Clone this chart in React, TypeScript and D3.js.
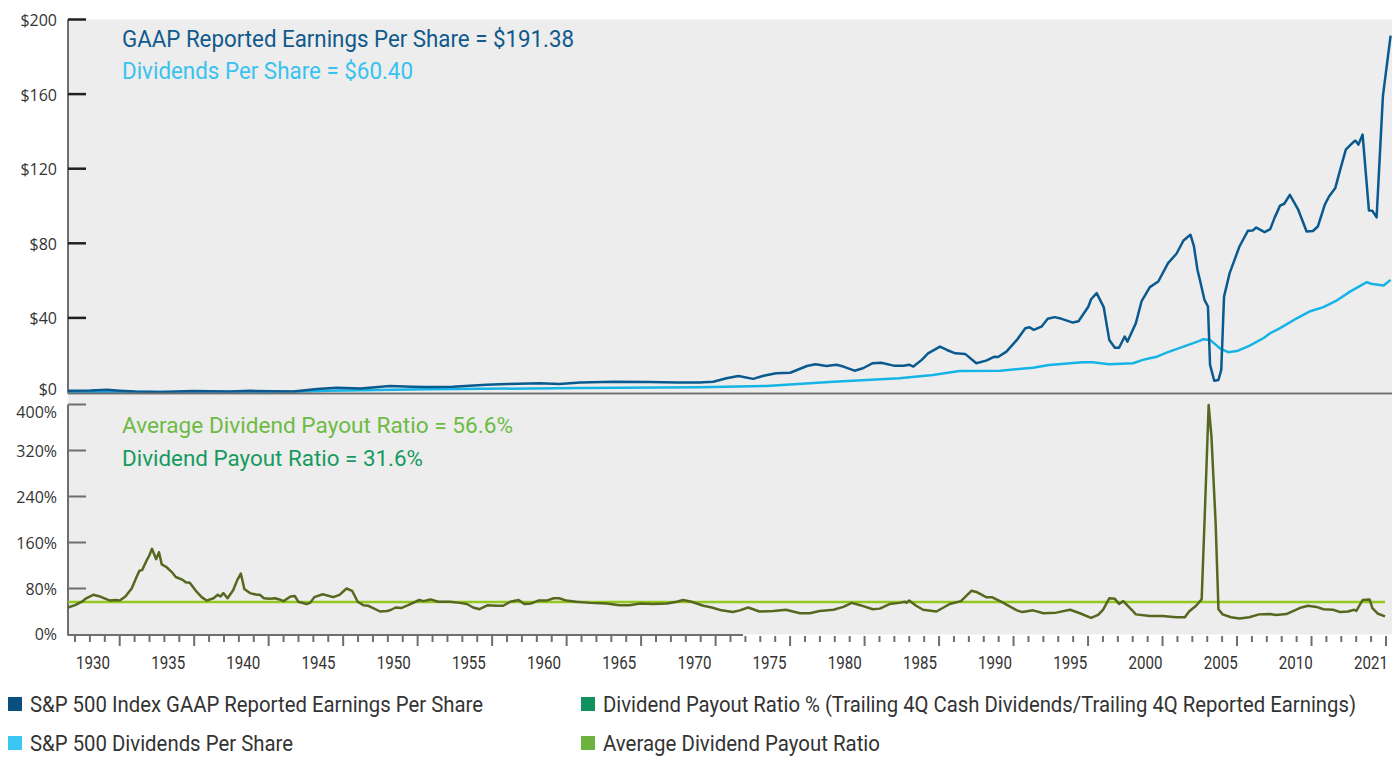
import React from "react";
import * as d3 from "d3";

// ---- Data (chart time in years) ----
const epsSeries: [number, number][] = [
  [1927.0, 1.0], [1928.6, 1.1], [1929.8, 1.5], [1930.7, 1.0], [1931.8, 0.5], [1933.6, 0.3],
  [1935.9, 0.8], [1938.6, 0.6], [1940.0, 0.9], [1943.1, 0.5], [1944.8, 1.9], [1946.2, 2.6],
  [1947.9, 2.2], [1950.0, 3.5], [1951.6, 3.1], [1952.6, 3.0], [1954.5, 3.1], [1956.9, 4.2],
  [1958.4, 4.6], [1960.7, 5.0], [1962.1, 4.6], [1963.6, 5.4], [1966.0, 5.8], [1968.5, 5.6],
  [1970.5, 5.4], [1972.1, 5.3], [1973.1, 5.8], [1974.05, 7.6], [1974.9, 8.9], [1975.95, 7.3],
  [1976.7, 9.0], [1977.6, 10.3], [1978.6, 10.6], [1979.8, 14.2], [1980.4, 15.1], [1981.2, 14.2],
  [1981.9, 14.9], [1982.4, 13.9], [1983.2, 11.7], [1983.8, 13.0], [1984.5, 15.7], [1985.1, 16.0],
  [1986.0, 14.4], [1986.7, 14.4], [1987.1, 14.9], [1987.4, 13.9], [1988.0, 17.5], [1988.45, 21.0],
  [1989.3, 24.6], [1989.8, 22.8], [1990.4, 21.0], [1991.1, 20.7], [1991.9, 15.7], [1992.6, 17.1],
  [1993.2, 19.2], [1993.45, 19.0], [1994.05, 21.9], [1994.8, 28.2], [1995.4, 34.5], [1995.7, 35.0],
  [1996.0, 33.6], [1996.55, 35.3], [1997.0, 39.5], [1997.5, 40.4], [1998.0, 39.5], [1998.8, 37.5],
  [1999.2, 38.2], [1999.9, 46.0], [2000.1, 50.0], [2000.5, 53.3], [2001.0, 45.8], [2001.4, 28.2],
  [2001.8, 24.0], [2002.1, 24.0], [2002.5, 30.0], [2002.7, 27.3], [2003.3, 37.2], [2003.7, 48.8],
  [2004.3, 56.5], [2004.9, 59.5], [2005.6, 69.4], [2006.2, 74.4], [2006.7, 81.5], [2007.2, 84.6],
  [2007.45, 78.3], [2007.7, 65.8], [2007.9, 59.5], [2008.2, 49.7], [2008.45, 46.1], [2008.6, 14.8],
  [2008.9, 6.3], [2009.2, 6.7], [2009.4, 12.1], [2009.6, 51.4], [2010.0, 64.0], [2010.7, 78.3],
  [2011.3, 86.7], [2011.66, 86.9], [2011.9, 88.5], [2012.1, 87.6], [2012.5, 86.0], [2012.9, 87.6],
  [2013.2, 93.5], [2013.6, 100.2], [2013.9, 101.2], [2014.3, 106.0], [2014.9, 98.0], [2015.5, 86.3],
  [2015.95, 86.6], [2016.3, 89.0], [2016.8, 100.7], [2017.1, 105.1], [2017.55, 109.7], [2017.9, 119.5],
  [2018.3, 130.2], [2018.6, 132.5], [2018.9, 134.7], [2019.0, 135.0], [2019.2, 132.9], [2019.5, 138.3],
  [2019.95, 97.6], [2020.2, 97.4], [2020.5, 93.9], [2020.95, 158.9], [2021.5, 191.38],
];

const dpsSeries: [number, number][] = [
  [1927.0, 0.3], [1935.0, 0.3], [1943.6, 0.5], [1945.5, 1.0], [1952.6, 1.7], [1963.6, 2.4],
  [1972.1, 2.8], [1976.9, 3.5], [1981.7, 5.8], [1986.4, 7.6], [1988.8, 9.4], [1990.7, 11.5],
  [1993.6, 11.7], [1995.95, 13.3], [1997.1, 14.8], [1999.5, 16.2], [2000.2, 16.2], [2001.4, 15.1],
  [2003.1, 15.7], [2003.8, 17.5], [2004.3, 18.4], [2004.8, 19.2], [2005.5, 21.4], [2006.7, 24.6],
  [2007.9, 27.8], [2008.1, 28.6], [2008.6, 28.2], [2009.3, 23.7], [2009.9, 21.6], [2010.6, 22.4],
  [2011.4, 25.0], [2012.4, 29.1], [2012.9, 31.8], [2013.6, 34.5], [2014.8, 39.8], [2015.7, 43.4],
  [2016.7, 45.8], [2017.6, 49.1], [2018.6, 54.1], [2019.8, 59.2], [2020.1, 58.3], [2021.0, 57.4],
  [2021.5, 60.4],
];

const payoutSeries: [number, number][] = [
  [1927.0, 47], [1927.5, 51], [1928.0, 57], [1928.3, 63], [1928.8, 69], [1929.3, 66], [1930.0, 59],
  [1930.4, 60], [1930.7, 59], [1931.1, 66], [1931.55, 80], [1931.9, 100], [1932.1, 111], [1932.3, 112],
  [1932.6, 128], [1932.8, 137], [1933.0, 149], [1933.3, 131], [1933.5, 143], [1933.7, 122],
  [1934.05, 117], [1934.4, 109], [1934.7, 100], [1935.2, 95], [1935.4, 91], [1935.7, 90], [1936.2, 74],
  [1936.55, 65], [1936.9, 59], [1937.4, 63], [1937.7, 69], [1937.9, 66], [1938.1, 72], [1938.4, 63],
  [1938.8, 77], [1939.1, 95], [1939.35, 106], [1939.6, 79], [1940.0, 72], [1940.5, 69], [1940.7, 69],
  [1941.0, 63], [1941.4, 62], [1941.8, 63], [1942.1, 61], [1942.4, 58], [1942.9, 66], [1943.2, 67],
  [1943.45, 57], [1944.05, 53], [1944.3, 55], [1944.6, 65], [1945.2, 70], [1945.95, 65], [1946.4, 69],
  [1946.9, 80], [1947.3, 76], [1947.7, 57], [1948.1, 51], [1948.45, 50], [1948.8, 46], [1949.3, 40],
  [1949.8, 41], [1950.1, 43], [1950.4, 47], [1950.8, 46], [1951.3, 51], [1952.1, 60], [1952.4, 58],
  [1952.9, 61], [1953.45, 57], [1954.3, 57], [1955.0, 55], [1955.5, 53], [1955.95, 47], [1956.4, 44],
  [1957.0, 51], [1957.6, 50], [1958.1, 50], [1958.6, 57], [1959.2, 60], [1959.6, 53], [1960.1, 54],
  [1960.6, 59], [1961.2, 59], [1961.7, 63], [1962.1, 63], [1962.6, 59], [1963.3, 57], [1964.3, 55],
  [1965.5, 54], [1966.4, 51], [1967.1, 51], [1967.9, 54], [1968.8, 53], [1969.8, 54], [1970.5, 57],
  [1970.95, 60], [1971.55, 57], [1972.4, 50], [1973.0, 47], [1973.7, 42], [1974.5, 39], [1975.0, 42],
  [1975.6, 47], [1976.4, 40], [1977.4, 41], [1978.3, 43], [1979.3, 37], [1980.0, 37], [1980.7, 41],
  [1981.7, 43], [1982.4, 48], [1983.0, 55], [1983.6, 51], [1984.5, 44], [1985.0, 45], [1985.7, 53],
  [1986.4, 55], [1986.8, 57], [1986.9, 55], [1987.1, 59], [1987.6, 50], [1988.1, 43], [1989.05, 40],
  [1990.0, 53], [1990.8, 58], [1991.55, 76], [1991.9, 74], [1992.6, 65], [1993.0, 65], [1993.6, 58],
  [1994.8, 42], [1995.2, 39], [1995.95, 42], [1996.7, 37], [1997.6, 38], [1998.6, 43], [1999.3, 37],
  [2000.1, 29], [2000.6, 34], [2000.95, 43], [2001.4, 63], [2001.8, 62], [2002.1, 53], [2002.4, 58],
  [2003.0, 43], [2003.3, 35], [2004.3, 32], [2005.2, 32], [2006.2, 30], [2006.8, 30], [2007.1, 40],
  [2007.6, 50], [2008.0, 61], [2008.2, 193], [2008.5, 399], [2008.7, 344], [2009.0, 193], [2009.2, 44],
  [2009.5, 35], [2010.1, 30], [2010.7, 28], [2011.4, 30], [2012.1, 35], [2012.9, 35.5], [2013.3, 34],
  [2014.05, 35.5], [2015.0, 46], [2015.6, 50], [2016.2, 48], [2016.7, 44], [2017.4, 43], [2017.9, 39],
  [2018.45, 40], [2018.9, 43], [2019.05, 41], [2019.5, 60], [2020.0, 61], [2020.2, 46], [2020.6, 36],
  [2021.1, 31.6],
];

const averagePayout = 56.6;
const avgSpan: [number, number] = [1927.0, 2021.1];

const topTicks = [0, 40, 80, 120, 160, 200];
const bottomTicks = [0, 80, 160, 240, 320, 400];
const yearLabels = ["1930", "1935", "1940", "1945", "1950", "1955", "1960", "1965", "1970", "1975",
  "1980", "1985", "1990", "1995", "2000", "2005", "2010", "2021"];
const tickCount = 89;

const legendItems = [
  { label: "S&P 500 Index GAAP Reported Earnings Per Share", color: "#0b4f80", width: 453 },
  { label: "S&P 500 Dividends Per Share", color: "#3cc6f2", width: 263 },
  { label: "Dividend Payout Ratio % (Trailing 4Q Cash Dividends/Trailing 4Q Reported Earnings)", color: "#0f9160", width: 753 },
  { label: "Average Dividend Payout Ratio", color: "#6db33f", width: 277 },
];

// ---- Layout ----
const W = 1400, H = 757;
const L = 68, R = 1392;
const NARROW = "Roboto, 'Noto Sans', sans-serif";
const AXISFONT = "'Open Sans', 'Noto Sans', sans-serif";

export default function App() {
  const x = d3.scaleLinear().domain([1927, 2021.6]).range([L, R]);
  const yTop = d3.scaleLinear().domain([0, 200]).range([392.5, 19.5]);
  const yBot = d3.scaleLinear().domain([0, 400]).range([634.5, 404.5]);
  const tickX = d3.scaleLinear().domain([0, tickCount - 1]).range([75, 1386]);
  const labelX = d3.scalePoint<string>().domain(yearLabels).range([93, 1371]);

  const lineTop = d3.line<[number, number]>().x(d => x(d[0])).y(d => yTop(d[1]));
  const lineBot = d3.line<[number, number]>().x(d => x(d[0])).y(d => yBot(d[1]));

  return (
    <svg width={W} height={H} style={{ position: "absolute", left: 0, top: 0, background: "#fff" }}>
      {/* backgrounds */}
      <rect x={L} y={yTop(200)} width={R - L} height={yTop(0) - yTop(200)} fill="#ededed" />
      <rect x={L} y={395} width={R - L} height={yBot(0) - 395} fill="#ededed" />

      {/* top axis */}
      <line x1={L} x2={L} y1={yTop(200)} y2={yTop(0) + 1} stroke="#6d6e71" strokeWidth={2} />
      {topTicks.filter(t => t > 0).map(t => (
        <line key={"tt" + t} x1={L} x2={L + 18} y1={yTop(t)} y2={yTop(t)} stroke="#231f20" strokeWidth={2.5} />
      ))}
      {topTicks.map(t => (
        <text key={"tl" + t} x={57} y={yTop(t) + (t === 0 ? 2.5 : 6.5)} textAnchor="end" fontFamily={AXISFONT}
          fontSize={16} fill="#333">
          {"$" + t}
        </text>
      ))}

      {/* top lines */}
      <path d={lineTop(dpsSeries) || ""} fill="none" stroke="#16b3e6" strokeWidth={2.5} strokeLinejoin="round" />
      <path d={lineTop(epsSeries) || ""} fill="none" stroke="#0a5a8f" strokeWidth={2.5} strokeLinejoin="round" />
      <line x1={L} x2={R} y1={yTop(0) + 1} y2={yTop(0) + 1} stroke="#6d6e71" strokeWidth={2} />

      {/* bottom axis */}
      <line x1={L} x2={L} y1={yBot(400)} y2={yBot(0) + 1} stroke="#6d6e71" strokeWidth={2} />
      {bottomTicks.filter(t => t > 0).map(t => (
        <line key={"bt" + t} x1={L} x2={L + 18} y1={yBot(t)} y2={yBot(t)} stroke="#6d6e71" strokeWidth={2} />
      ))}
      {bottomTicks.map(t => (
        <text key={"bl" + t} x={57} y={yBot(t) + (t === 400 ? 13 : t === 0 ? 5 : 6)} textAnchor="end"
          fontFamily={AXISFONT} fontSize={16} fill="#333">
          {t + "%"}
        </text>
      ))}
      <line x1={L} x2={743} y1={yBot(0) + 0.5} y2={yBot(0) + 0.5} stroke="#6d6e71" strokeWidth={2} />
      {d3.range(tickCount).map(i => (
        <line key={"xt" + i} x1={tickX(i)} x2={tickX(i)} y1={636} y2={i % 5 === 3 ? 646 : 642}
          stroke="#6d6e71" strokeWidth={2} />
      ))}
      {yearLabels.map(l => (
        <text key={"yl" + l} x={labelX(l)} y={669} textAnchor="middle" fontFamily={NARROW} fontSize={18}
          fill="#333" textLength={34} lengthAdjust="spacingAndGlyphs">
          {l}
        </text>
      ))}

      {/* bottom lines */}
      <line x1={x(avgSpan[0])} x2={x(avgSpan[1])} y1={yBot(averagePayout)} y2={yBot(averagePayout)}
        stroke="#93c91f" strokeWidth={2.5} />
      <path d={lineBot(payoutSeries) || ""} fill="none" stroke="#56681f" strokeWidth={2.5} strokeLinejoin="round" />

      {/* annotations */}
      <text x={122} y={47} fontFamily={NARROW} fontSize={23} fill="#105a8c" textLength={452} lengthAdjust="spacingAndGlyphs">
        GAAP Reported Earnings Per Share = $191.38
      </text>
      <text x={122} y={79} fontFamily={NARROW} fontSize={23} fill="#3ac2ef" textLength={291} lengthAdjust="spacingAndGlyphs">
        Dividends Per Share = $60.40
      </text>
      <text x={122} y={433} fontFamily={NARROW} fontSize={22} fill="#6dbb45" textLength={391} lengthAdjust="spacingAndGlyphs">
        Average Dividend Payout Ratio = 56.6%
      </text>
      <text x={122} y={466} fontFamily={NARROW} fontSize={22} fill="#179a60" textLength={301} lengthAdjust="spacingAndGlyphs">
        Dividend Payout Ratio = 31.6%
      </text>

      {/* legend */}
      {legendItems.map((item, i) => {
        const col = i < 2 ? 0 : 1;
        const row = i % 2;
        const lx = col === 0 ? 8 : 581;
        const ly = row === 0 ? 704 : 743;
        return (
          <g key={"lg" + i}>
            <rect x={lx} y={ly - 7} width={14} height={14} fill={item.color} />
            <text x={lx + 22} y={ly + 8} fontFamily={NARROW} fontSize={22} fill="#333"
              textLength={item.width} lengthAdjust="spacingAndGlyphs">
              {item.label}
            </text>
          </g>
        );
      })}
    </svg>
  );
}
